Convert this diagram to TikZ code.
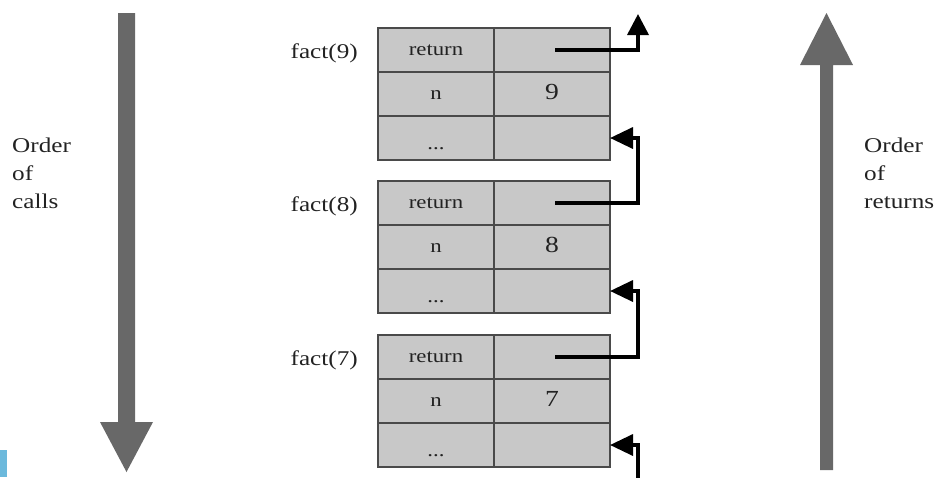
\documentclass[tikz,border=0pt]{standalone}
\usepackage{fontspec}
\setmainfont{Liberation Serif}
\usetikzlibrary{arrows.meta}
\definecolor{biggray}{HTML}{686868}
\definecolor{cellfill}{HTML}{C8C8C8}
\definecolor{cellline}{HTML}{4A4A4A}
\definecolor{txtgray}{HTML}{222222}
\definecolor{edgeblue}{HTML}{6CB9DC}
\newcommand\sx[1]{\scalebox{1.2}[1]{#1}}
\tikzset{
  cell/.style={draw=cellline, line width=2pt, fill=cellfill, minimum width=116pt,
    minimum height=44pt, inner sep=0pt, outer sep=0pt, anchor=north west,
    text=txtgray, font=\fontsize{19}{22}\selectfont, text height=14pt, text depth=4pt},
  lbl/.style={text=txtgray, font=\fontsize{21}{24}\selectfont, inner sep=0pt},
  side/.style={text=txtgray, font=\fontsize{21}{28}\selectfont, align=left, inner sep=0pt, anchor=north west},
  conn/.style={line width=3.5pt, black, -{Triangle[length=23pt,width=21pt]}},
  upconn/.style={line width=3.5pt, black, -{Triangle[length=21pt,width=21pt]}}
}
\begin{document}
\begin{tikzpicture}[x=1pt,y=-1pt]
\useasboundingbox (0,0) rectangle (939,477);
% big arrows
\fill[biggray] (118,13) -- (135,13) -- (135,422) -- (153,422) -- (126.5,472) -- (100,422) -- (118,422) -- cycle;
\fill[biggray] (820,470) -- (833,470) -- (833,65) -- (853,65) -- (826.5,13) -- (800,65) -- (820,65) -- cycle;
\fill[edgeblue] (0,450) rectangle (7,477);
% side texts
\node[side] (calls) at (12,138) {\sx{Order}\\\sx{of}\\\sx{calls}};
\node[side] (rets) at (864,138) {\sx{Order}\\\sx{of}\\\sx{returns}};
% frames
\foreach \k/\T in {9/28, 8/181, 7/335}{
  \node[cell] (r\k a) at (378,\T) {\sx{return}};
  \node[cell] (r\k b) at (494,\T) {};
  \node[cell] (n\k a) at (378,\T+44) {\sx{n}};
  \node[cell] (n\k b) at (494,\T+44) {\fontsize{23}{24}\selectfont\sx{\k}};
  \node[cell] (d\k a) at (378,\T+88) {\raisebox{-6pt}{\sx{...}}};
  \node[cell] (d\k b) at (494,\T+88) {};
  \draw[cellline, line width=2.6pt] (r\k a.north west) rectangle (d\k b.south east);
  \node[lbl, anchor=east] (f\k) at ([xshift=-20pt,yshift=-3pt]r\k a.west) {\sx{fact(\k)}};
}
% connectors
\coordinate (top) at (638,14);
\coordinate (bot) at (638,480);
\draw[upconn] ([xshift=3pt]r9b.center) -| (top);
\draw[conn] ([xshift=3pt]r8b.center) -| ([xshift=28pt]d9b.east) -- (d9b.east);
\draw[conn] ([xshift=3pt]r7b.center) -| ([xshift=28pt]d8b.east) -- (d8b.east);
\draw[conn] (bot) |- (d7b.east);
\end{tikzpicture}
\end{document}
